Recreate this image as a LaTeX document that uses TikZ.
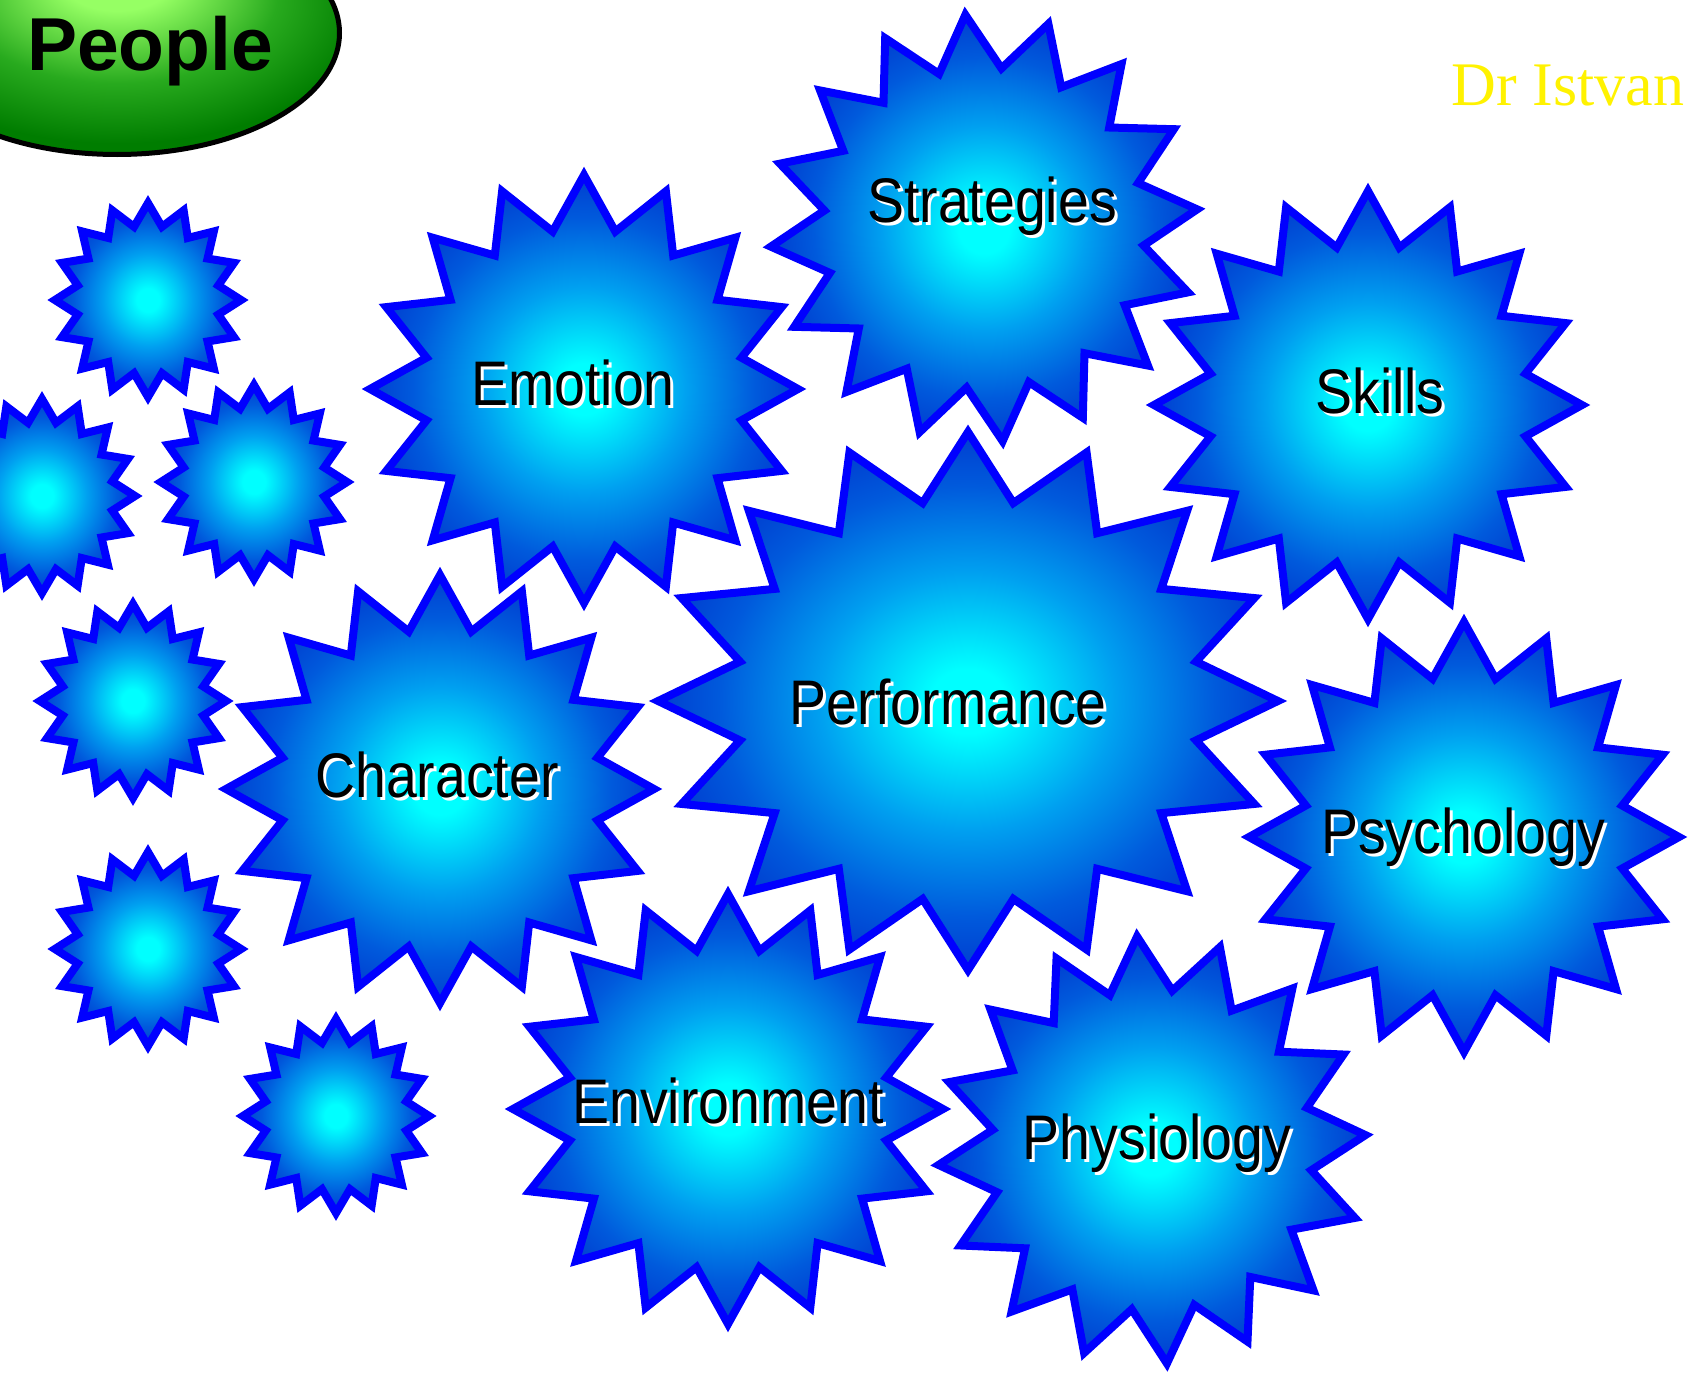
\documentclass[tikz,border=0pt]{standalone}
\usepackage{fontspec}
\usetikzlibrary{shapes.geometric}
\newfontfamily\narrowsans[FakeStretch=0.88]{Liberation Sans}
\newfontfamily\plainsans{Liberation Sans}
\newfontfamily\romanface{Liberation Serif}
\definecolor{burstcore}{RGB}{0,255,255}
\definecolor{burstmid}{RGB}{0,160,240}
\definecolor{burstdeep}{RGB}{0,90,220}
\definecolor{burstedge}{RGB}{0,45,200}
\definecolor{leaflight}{RGB}{150,255,100}
\definecolor{leafmid}{RGB}{40,170,30}
\definecolor{leafdark}{RGB}{0,125,0}
\pgfdeclareradialshading{burstfill}{\pgfpoint{0bp}{0bp}}{color(0bp)=(burstcore); color(3bp)=(burstcore); color(12bp)=(burstmid); color(20bp)=(burstdeep); color(28bp)=(burstedge); color(50bp)=(burstedge)}
\pgfdeclareradialshading{leaffill}{\pgfpoint{0bp}{12bp}}{color(0bp)=(leaflight); color(6bp)=(leaflight); color(18bp)=(leafmid); color(28bp)=(leafdark); color(50bp)=(leafdark)}
\newcommand{\glow}[1]{\rlap{\kern3pt\raisebox{-3pt}{\color{white}#1}}#1}
\begin{document}
\begin{tikzpicture}[x=1pt,y=-1pt]
    \tikzstyle{burst}=[star,star points=16,star point ratio=1.333,inner sep=0pt,draw=blue,line width=8pt,shade,shading=burstfill,minimum size=428pt]
    \tikzstyle{small burst}=[burst,minimum size=194pt,star point ratio=1.3,xscale=0.96]
    \tikzstyle{word}=[inner sep=0pt,anchor=base,font=\narrowsans\fontsize{63}{70}\selectfont]
    \clip (0,0) rectangle (1690,1373);
    % the title blob
    \node[ellipse,draw=black,line width=5pt,shade,shading=leaffill,minimum width=445pt,minimum height=243pt,inner sep=0pt] (people) at (117,33) {};
    \node[anchor=base,inner sep=0pt,font=\plainsans\bfseries\fontsize{75}{80}\selectfont] (people-txt) at (150,70) {People};
    \node[anchor=base,inner sep=0pt,text=yellow,font=\romanface\fontsize{62}{70}\selectfont] (author) at (1568,105) {Dr Istvan};
    % Draw the small stars on the left
    \node[small burst] (s1) at (148,300) {};
    \node[small burst] (s2) at (42,496) {};
    \node[small burst] (s3) at (254,482) {};
    \node[small burst] (s4) at (133,701) {};
    \node[small burst] (s5) at (148,949) {};
    \node[small burst] (s6) at (336,1116) {};
    % Draw the big stars
    \node[burst] (emo) at (584,389) {};
    \node[burst,rotate=5] (strat) at (984,228) {};
    \node[burst] (skill) at (1368,405) {};
    \node[burst] (char) at (440,789) {};
    \node[burst,minimum size=538pt,xscale=1.152] (perf) at (968,701) {};
    \node[burst,minimum size=430pt] (psych) at (1464,837) {};
    \node[burst,minimum size=430pt] (env) at (728,1109) {};
    \node[burst,rotate=4] (phys) at (1152,1150) {};
    % labels
    \node[word] (strat-txt) at (992,222) {\glow{Strategies}};
    \node[word] (emo-txt) at (573,405) {\glow{Emotion}};
    \node[word] (skill-txt) at (1380,413) {\glow{Skills}};
    \node[word] (char-txt) at (437,797) {\glow{Character}};
    \node[word] (perf-txt) at (948,724) {\glow{Performance}};
    \node[word] (psych-txt) at (1463,853) {\glow{Psychology}};
    \node[word] (env-txt) at (728,1123) {\glow{Environment}};
    \node[word] (phys-txt) at (1157,1159) {\glow{Physiology}};
\end{tikzpicture}
\end{document}
